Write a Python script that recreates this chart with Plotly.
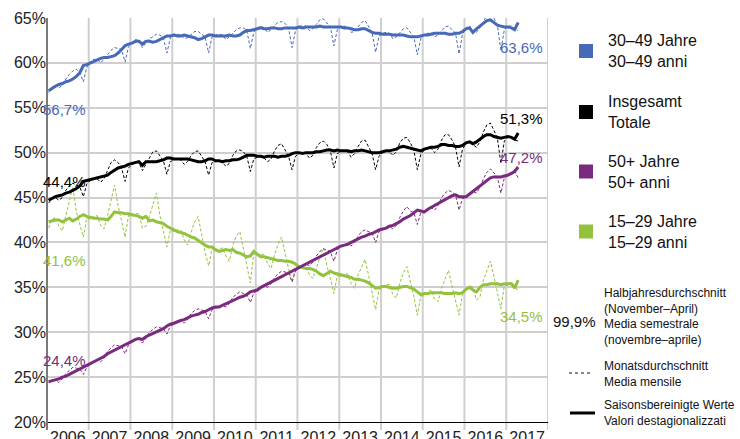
import plotly.graph_objects as go
import pandas as pd

# ---------------- data (monthly, Jan 2006 - Apr 2017) ----------------
start_month = "2006-01-01"
n_months = 136

# 30-49 Jahre: seasonally adjusted / monthly
sa_3049 = [
    56.9, 57.2, 57.4, 57.6, 57.7, 57.9, 58.0, 58.2, 58.5, 58.9, 59.7, 59.8,
    60.0, 60.2, 60.3, 60.5, 60.6, 60.6, 60.7, 60.8, 61.1, 61.5, 61.9, 62.1,
    62.2, 62.4, 62.4, 62.1, 62.4, 62.4, 62.3, 62.4, 62.6, 62.8, 63.0, 63.0,
    63.1, 63.0, 63.0, 63.1, 63.0, 62.9, 62.8, 62.6, 62.7, 62.9, 63.1, 63.1,
    63.0, 63.0, 63.0, 63.0, 63.1, 63.0, 63.0, 63.1, 63.4, 63.6, 63.6, 63.7,
    63.8, 63.9, 63.8, 63.8, 63.9, 63.9, 63.8, 63.8, 63.9, 63.9, 63.9, 63.9,
    64.0, 63.9, 64.0, 64.0, 64.0, 64.0, 64.1, 64.0, 64.0, 64.0, 64.0, 64.0,
    64.0, 63.9, 63.9, 63.8, 63.7, 63.7, 63.8, 63.8, 63.6, 63.4, 63.3, 63.3,
    63.2, 63.2, 63.2, 63.1, 63.1, 63.1, 63.1, 63.0, 62.9, 62.9, 62.9, 63.0,
    63.1, 63.1, 63.2, 63.3, 63.3, 63.3, 63.3, 63.2, 63.2, 63.3, 63.3, 63.5,
    63.8, 63.9, 63.4, 63.8, 64.1, 64.4, 64.7, 64.8, 64.5, 64.2, 64.1, 64.0,
    64.0, 63.9, 63.7, 64.5,
]
raw_3049 = [
    56.7, 57.3, 57.5, 57.2, 57.5, 58.2, 58.7, 59.1, 59.3, 58.9, 57.9, 59.5,
    60.1, 60.4, 60.4, 60.0, 60.4, 60.9, 61.4, 61.7, 61.6, 61.5, 60.1, 61.8,
    62.3, 62.6, 62.5, 61.7, 62.2, 62.7, 62.9, 63.2, 63.1, 62.8, 61.1, 62.8,
    63.2, 63.2, 63.1, 62.7, 62.8, 63.2, 63.5, 63.5, 63.2, 62.9, 61.1, 62.9,
    63.1, 63.2, 63.1, 62.6, 62.9, 63.3, 63.7, 63.9, 63.9, 63.6, 61.6, 63.4,
    63.9, 64.1, 63.9, 63.4, 63.7, 64.2, 64.5, 64.6, 64.4, 63.9, 61.7, 63.6,
    64.1, 64.1, 64.1, 63.6, 63.8, 64.3, 64.8, 64.9, 64.5, 64.0, 61.9, 63.7,
    64.1, 64.1, 64.0, 63.4, 63.5, 64.0, 64.5, 64.7, 64.1, 63.4, 61.2, 63.0,
    63.3, 63.4, 63.3, 62.7, 62.9, 63.4, 63.8, 63.9, 63.4, 62.9, 60.9, 62.7,
    63.2, 63.3, 63.3, 62.9, 63.1, 63.6, 64.0, 64.1, 63.7, 63.3, 61.0, 63.2,
    63.9, 64.1, 63.5, 63.4, 63.9, 64.7, 65.3, 65.5, 65.0, 64.2, 61.4, 63.7,
    64.1, 64.1, 63.8, 63.6,
]

# Insgesamt
sa_total = [
    44.7, 44.9, 45.1, 45.2, 45.3, 45.5, 45.6, 45.8, 46.0, 46.3, 46.8, 46.9,
    47.0, 47.1, 47.2, 47.3, 47.4, 47.5, 47.8, 48.1, 48.3, 48.4, 48.5, 48.7,
    48.8, 48.9, 49.0, 48.6, 49.0, 49.0, 49.0, 49.0, 49.1, 49.2, 49.4, 49.4,
    49.3, 49.3, 49.3, 49.3, 49.3, 49.2, 49.1, 49.0, 49.0, 49.1, 49.3, 49.3,
    49.1, 49.1, 49.0, 49.1, 49.1, 49.2, 49.2, 49.3, 49.5, 49.7, 49.7, 49.7,
    49.6, 49.6, 49.5, 49.6, 49.6, 49.6, 49.5, 49.6, 49.6, 49.7, 49.9, 50.0,
    50.0, 49.9, 50.0, 50.0, 50.0, 50.1, 50.1, 50.2, 50.3, 50.3, 50.2, 50.3,
    50.2, 50.2, 50.2, 50.1, 50.2, 50.2, 50.3, 50.2, 50.1, 50.0, 50.0, 50.0,
    50.1, 50.2, 50.2, 50.3, 50.4, 50.6, 50.7, 50.6, 50.5, 50.4, 50.3, 50.2,
    50.4, 50.5, 50.6, 50.6, 50.7, 50.9, 50.9, 50.8, 50.8, 50.7, 50.7, 50.8,
    51.1, 51.2, 51.0, 51.2, 51.5, 51.8, 52.0, 52.0, 51.8, 51.7, 51.6, 51.7,
    51.8, 51.7, 51.5, 52.2,
]
raw_total = [
    44.4, 44.9, 45.0, 44.7, 45.0, 45.8, 46.3, 46.6, 46.4, 46.2, 45.1, 46.5,
    46.9, 47.1, 47.1, 46.7, 47.1, 48.0, 48.9, 49.2, 48.9, 48.3, 46.8, 48.3,
    48.7, 48.9, 48.9, 48.0, 48.7, 49.5, 50.1, 50.2, 49.7, 49.1, 47.6, 49.0,
    49.2, 49.3, 49.2, 48.7, 49.0, 49.7, 50.1, 50.2, 49.6, 49.0, 47.5, 48.9,
    49.0, 49.1, 48.9, 48.5, 48.8, 49.7, 50.2, 50.3, 50.1, 49.6, 47.9, 49.3,
    49.5, 49.6, 49.4, 49.0, 49.3, 50.2, 50.8, 51.0, 50.3, 49.6, 48.1, 49.6,
    49.9, 49.9, 49.9, 49.4, 49.7, 50.6, 51.1, 51.3, 50.9, 50.2, 48.3, 49.9,
    50.1, 50.2, 50.1, 49.5, 49.9, 50.7, 51.3, 51.4, 50.7, 49.9, 48.1, 49.6,
    50.0, 50.2, 50.1, 49.7, 50.1, 51.1, 51.6, 51.7, 51.1, 50.3, 48.1, 49.8,
    50.3, 50.5, 50.5, 50.0, 50.4, 51.4, 52.0, 52.0, 51.4, 50.6, 48.4, 50.4,
    51.0, 51.2, 50.9, 50.6, 51.2, 52.3, 53.1, 53.3, 52.5, 51.6, 48.8, 51.3,
    51.7, 51.7, 51.4, 51.3,
]

# 50+ Jahre
sa_50 = [
    24.5, 24.6, 24.7, 24.8, 25.0, 25.1, 25.3, 25.5, 25.7, 25.9, 26.1, 26.3,
    26.5, 26.7, 26.9, 27.1, 27.3, 27.6, 27.8, 28.0, 28.2, 28.4, 28.6, 28.8,
    29.0, 29.2, 29.3, 29.2, 29.5, 29.7, 29.8, 30.0, 30.2, 30.4, 30.7, 30.9,
    31.0, 31.2, 31.3, 31.4, 31.6, 31.8, 31.9, 32.0, 32.2, 32.3, 32.5, 32.7,
    32.8, 32.8, 33.0, 33.2, 33.4, 33.6, 33.7, 33.9, 34.0, 34.2, 34.5, 34.6,
    34.7, 35.0, 35.2, 35.4, 35.6, 35.8, 36.0, 36.2, 36.4, 36.6, 36.8, 37.0,
    37.2, 37.4, 37.6, 37.8, 38.0, 38.2, 38.4, 38.6, 38.8, 39.0, 39.2, 39.4,
    39.6, 39.7, 39.8, 40.0, 40.2, 40.4, 40.6, 40.7, 40.9, 41.0, 41.2, 41.4,
    41.5, 41.6, 41.8, 41.9, 42.1, 42.3, 42.6, 42.8, 43.0, 43.3, 43.6, 43.5,
    43.4, 43.7, 43.9, 44.1, 44.3, 44.6, 44.8, 45.0, 45.2, 45.3, 45.1, 45.1,
    45.1, 45.4, 45.7, 46.0, 46.3, 46.6, 46.9, 47.2, 47.3, 47.3, 47.3, 47.4,
    47.5, 47.7, 47.9, 48.4,
]
raw_50 = [
    24.4, 24.6, 24.7, 24.4, 24.8, 25.4, 25.8, 26.1, 26.0, 25.9, 25.3, 26.1,
    26.4, 26.7, 26.9, 26.7, 27.1, 27.9, 28.3, 28.6, 28.5, 28.4, 27.6, 28.6,
    28.9, 29.2, 29.3, 28.8, 29.3, 30.0, 30.3, 30.6, 30.5, 30.4, 29.8, 30.7,
    30.9, 31.2, 31.3, 31.0, 31.4, 32.1, 32.4, 32.6, 32.5, 32.3, 31.5, 32.5,
    32.7, 32.8, 33.0, 32.8, 33.2, 33.9, 34.2, 34.5, 34.3, 34.2, 33.3, 34.4,
    34.6, 35.0, 35.2, 35.0, 35.4, 36.1, 36.5, 36.8, 36.7, 36.6, 35.6, 36.8,
    37.1, 37.4, 37.6, 37.4, 37.8, 38.5, 39.0, 39.3, 39.1, 39.0, 37.9, 39.2,
    39.5, 39.7, 39.8, 39.6, 40.0, 40.7, 41.2, 41.4, 41.2, 41.0, 40.0, 41.2,
    41.4, 41.6, 41.8, 41.5, 41.9, 42.8, 43.5, 44.0, 43.5, 43.3, 42.0, 43.3,
    43.3, 43.7, 43.9, 43.6, 44.1, 45.0, 45.5, 45.8, 45.6, 45.3, 43.6, 44.9,
    45.0, 45.4, 45.7, 45.5, 46.1, 47.1, 47.8, 48.2, 47.8, 47.3, 45.5, 47.2,
    47.4, 47.7, 47.9, 47.2,
]

# 15-29 Jahre
sa_1529 = [
    42.3, 42.4, 42.5, 42.5, 42.3, 42.5, 42.7, 42.4, 42.6, 42.9, 43.1, 42.9,
    42.8, 42.7, 42.7, 42.6, 42.6, 42.5, 42.9, 43.4, 43.3, 43.3, 43.2, 43.2,
    43.1, 43.0, 42.9, 42.7, 42.9, 42.4, 42.5, 42.3, 42.2, 42.1, 41.8, 41.6,
    41.4, 41.2, 41.1, 41.0, 40.8, 40.6, 40.5, 40.2, 39.9, 39.7, 39.5, 39.5,
    39.2, 39.0, 39.1, 39.2, 39.1, 39.2, 38.9, 38.8, 38.6, 38.4, 38.5, 39.0,
    38.7, 38.4, 38.4, 38.3, 38.2, 38.1, 38.0, 38.0, 37.9, 37.9, 37.8, 37.6,
    37.3, 37.2, 37.1, 37.1, 37.0, 36.8, 36.5, 36.3, 36.6, 36.8, 36.6, 36.5,
    36.4, 36.3, 36.2, 36.1, 35.9, 35.9, 35.8, 35.7, 35.5, 35.2, 34.9, 35.0,
    35.1, 35.1, 35.0, 34.9, 34.9, 35.0, 35.1, 35.1, 34.9, 34.8, 34.5, 34.2,
    34.3, 34.3, 34.4, 34.4, 34.4, 34.4, 34.3, 34.3, 34.3, 34.4, 34.3, 34.4,
    34.8, 35.0, 34.7, 34.5, 35.0, 35.3, 35.3, 35.4, 35.4, 35.4, 35.3, 35.4,
    35.4, 35.4, 34.9, 35.8,
]
raw_1529 = [
    41.6, 42.6, 42.8, 41.8, 41.3, 43.0, 44.4, 46.2, 43.4, 42.0, 40.6, 42.7,
    42.6, 42.9, 43.0, 41.9, 41.5, 43.0, 44.8, 46.4, 44.1, 42.4, 40.6, 43.0,
    42.9, 43.2, 43.2, 41.6, 41.8, 42.9, 44.3, 45.5, 43.0, 41.3, 39.5, 41.4,
    41.2, 41.4, 41.4, 40.3, 39.7, 41.1, 42.3, 42.9, 40.7, 38.9, 37.4, 39.3,
    39.0, 39.2, 39.4, 38.5, 37.9, 39.7, 40.7, 41.2, 39.4, 37.6, 35.5, 38.8,
    38.5, 38.6, 38.7, 37.6, 37.1, 38.6, 39.8, 40.6, 38.7, 37.1, 35.6, 37.4,
    37.1, 37.5, 37.4, 36.4, 36.0, 37.3, 38.3, 39.4, 37.4, 36.0, 34.3, 36.3,
    36.2, 36.5, 36.5, 35.4, 34.9, 36.4, 37.2, 38.1, 36.3, 34.4, 32.5, 34.8,
    34.9, 35.3, 35.3, 34.2, 33.8, 35.5, 36.6, 37.3, 35.7, 34.0, 31.9, 34.0,
    34.1, 34.5, 34.7, 33.7, 33.4, 34.9, 35.9, 36.9, 35.1, 33.6, 31.9, 34.2,
    34.6, 35.2, 35.0, 33.6, 33.9, 35.8, 36.9, 37.9, 36.2, 34.6, 32.6, 35.2,
    35.2, 35.6, 35.2, 34.5,
]

series_names = ["30–49 Jahre<br>30–49 anni", "Insgesamt<br>Totale",
                "50+ Jahre<br>50+ anni", "15–29 Jahre<br>15–29 anni"]
y_ticks = [20, 25, 30, 35, 40, 45, 50, 55, 60, 65]
y_ticktext = ["20%", "25%", "30%", "35%", "40%", "45%", "50%", "55%", "60%", "65%"]

# ---------------- styling ----------------
BLUE = "#4669B8"
BLACK = "#000000"
PURPLE = "#7A2A7E"
GREEN = "#93C23C"
GRID = "#cfcfcf"
FONT = "Arial, Liberation Sans, sans-serif"

dates = pd.date_range(start_month, periods=n_months, freq="MS") + pd.Timedelta(days=14)

fig = go.Figure()

groups = [
    (raw_1529, sa_1529, GREEN),
    (raw_50, sa_50, PURPLE),
    (raw_total, sa_total, BLACK),
    (raw_3049, sa_3049, BLUE),
]
for raw, sa, col in groups:
    fig.add_trace(go.Scatter(x=dates, y=raw, mode="lines",
                             line=dict(color=col, width=1, dash="3px,2px"),
                             hoverinfo="skip", showlegend=False))
    fig.add_trace(go.Scatter(x=dates, y=sa, mode="lines",
                             line=dict(color=col, width=3),
                             hoverinfo="skip", showlegend=False))

# plot area in pixels
L, R, T, B = 47, 548, 18, 422


def px(x):
    return (x - L) / (R - L)


def py(y):
    return (B - y) / (B - T)


def fmt(v):
    return f"{v:.1f}".replace(".", ",") + "%"


ann = []
# start labels (first monthly values)
starts = [(raw_3049[0], BLUE, 110), (raw_total[0], BLACK, 181),
          (raw_1529[0], GREEN, 260), (raw_50[0], PURPLE, 360)]
for v, col, ypx in starts:
    ann.append(dict(x=px(41), y=py(ypx), xref="paper", yref="paper", text=fmt(v),
                    showarrow=False, xanchor="left", yanchor="middle",
                    font=dict(size=15, color=col, family=FONT)))
# end labels (last monthly values)
ends = [(raw_3049[-1], BLUE, 48), (raw_total[-1], BLACK, 118),
        (raw_50[-1], PURPLE, 157), (raw_1529[-1], GREEN, 316)]
for v, col, ypx in ends:
    ann.append(dict(x=px(545), y=py(ypx), xref="paper", yref="paper", text=fmt(v),
                    showarrow=False, xanchor="right", yanchor="middle",
                    font=dict(size=15, color=col, family=FONT)))

shapes = []
# vertical gridlines at year boundaries, with ticks below the axis
for yr in range(2007, 2019):
    shapes.append(dict(type="line", xref="x", yref="paper",
                       x0=f"{yr}-01-01", x1=f"{yr}-01-01", y0=py(430), y1=1,
                       line=dict(color=GRID, width=2), layer="below"))
shapes.append(dict(type="line", xref="paper", yref="paper",
                   x0=0, x1=0, y0=py(430), y1=1,
                   line=dict(color="#7a7a7a", width=2)))

# legend squares + labels
leg = [(BLUE, 51), (BLACK, 112), (PURPLE, 171.5), (GREEN, 231.5)]
for (col, yc), name in zip(leg, series_names):
    shapes.append(dict(type="rect", xref="paper", yref="paper",
                       x0=px(579), x1=px(593), y0=py(yc + 7), y1=py(yc - 7),
                       fillcolor=col, line=dict(width=0)))
    ann.append(dict(x=px(606), y=py(yc), xref="paper", yref="paper", text=name,
                    showarrow=False, xanchor="left", yanchor="middle", align="left",
                    font=dict(size=16, color="#111", family=FONT)))

ann.append(dict(x=px(551), y=py(321), xref="paper", yref="paper", text="99,9%",
                showarrow=False, xanchor="left", yanchor="middle",
                font=dict(size=15, color="#111", family=FONT)))
ann.append(dict(x=px(602), y=py(316), xref="paper", yref="paper",
                text="Halbjahresdurchschnitt<br>(November–April)<br>Media semestrale<br>(novembre–aprile)",
                showarrow=False, xanchor="left", yanchor="middle", align="left",
                font=dict(size=12, color="#111", family=FONT)))
ann.append(dict(x=px(602), y=py(374), xref="paper", yref="paper",
                text="Monatsdurchschnitt<br>Media mensile",
                showarrow=False, xanchor="left", yanchor="middle", align="left",
                font=dict(size=12, color="#111", family=FONT)))
ann.append(dict(x=px(602), y=py(413), xref="paper", yref="paper",
                text="Saisonsbereinigte Werte<br>Valori destagionalizzati",
                showarrow=False, xanchor="left", yanchor="middle", align="left",
                font=dict(size=12, color="#111", family=FONT)))
shapes.append(dict(type="line", xref="paper", yref="paper",
                   x0=px(569), x1=px(591), y0=py(373), y1=py(373),
                   line=dict(color="#111", width=1, dash="3px,3px")))
shapes.append(dict(type="line", xref="paper", yref="paper",
                   x0=px(570), x1=px(595), y0=py(413), y1=py(413),
                   line=dict(color="#000", width=3)))

fig.update_layout(
    width=740, height=439,
    margin=dict(l=L, r=740 - R, t=T, b=439 - B, pad=0),
    paper_bgcolor="white", plot_bgcolor="white",
    font=dict(family=FONT, color="#222"),
    annotations=ann, shapes=shapes, showlegend=False,
)
fig.update_xaxes(
    type="date", range=["2006-01-01", "2018-01-01"],
    dtick="M12", tick0="2006-01-01", tickformat="%Y", ticklabelmode="period",
    ticks="", showgrid=False,
    showline=True, linecolor="#000", linewidth=1,
    tickfont=dict(size=16, color="#222", family=FONT),
    ticklabelstandoff=1,
    automargin=False, zeroline=False,
)
fig.update_yaxes(
    range=[20, 65], tickmode="array", tickvals=y_ticks, ticktext=y_ticktext,
    showgrid=True, gridcolor=GRID, gridwidth=2,
    showline=False, ticks="",
    tickfont=dict(size=16, color="#222", family=FONT),
    automargin=False, zeroline=False,
)

fig.write_html("out.html",
               config={"displayModeBar": False},
               post_script="document.body.style.margin='0';document.body.style.padding='0';")
